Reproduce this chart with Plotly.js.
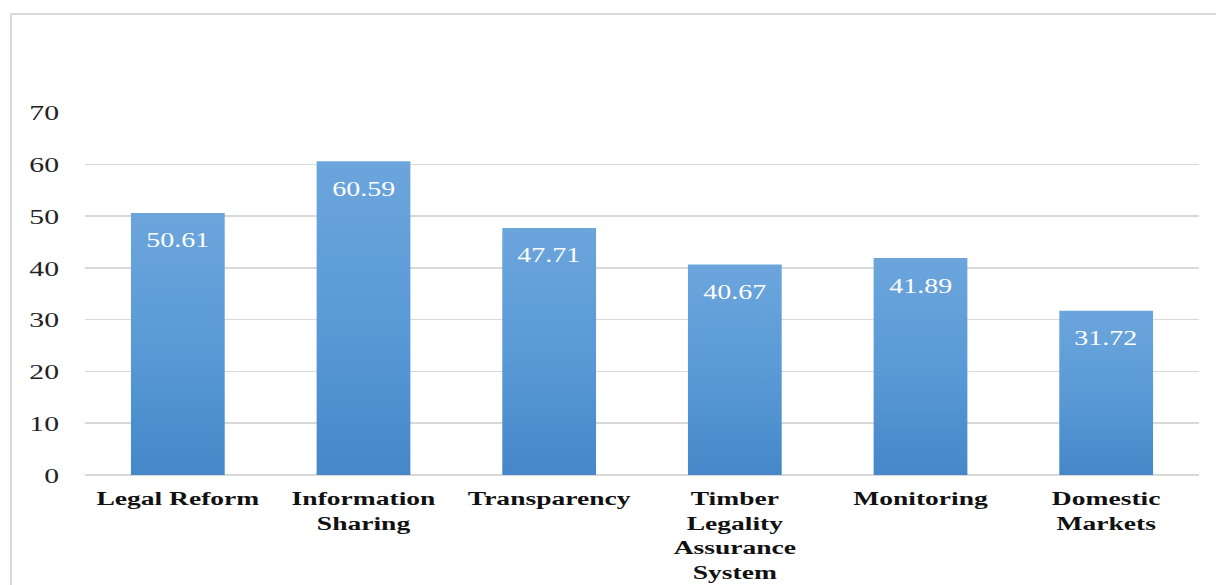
<!DOCTYPE html>
<html>
<head>
<meta charset="utf-8">
<script src="https://cdn.plot.ly/plotly-3.0.1.min.js"></script>
<style>
  html, body { margin: 0; padding: 0; background: #ffffff; }
  #frame { position: absolute; left: 10px; top: 13px; width: 1220px; height: 600px;
           border-top: 2px solid #d9d9d9; border-left: 2px solid #d9d9d9; }
  #chart { position: absolute; left: 0; top: 0; width: 1216px; height: 585px; }
</style>
</head>
<body>
<div id="frame"></div>
<div id="chart"></div>
<script>
const categories = ["Legal Reform", "Information<br>Sharing", "Transparency",
                    "Timber<br>Legality<br>Assurance<br>System", "Monitoring", "Domestic<br>Markets"];
const values = [50.61, 60.59, 47.71, 40.67, 41.89, 31.72];
const tickValues = [0, 10, 20, 30, 40, 50, 60, 70];

const serif = "Liberation Serif, Times New Roman, serif";

const trace = {
  type: "bar",
  x: categories,
  y: values,
  marker: { color: "#5a9bd6", line: { width: 0 } },
  hoverinfo: "skip"
};

const annotations = categories.map((c, i) => ({
  x: c, y: values[i], xref: "x", yref: "y",
  text: values[i].toFixed(2),
  showarrow: false, yanchor: "middle", yshift: -27,
  font: { family: serif, size: 22, color: "#ffffff" }
}));

const layout = {
  width: 1216, height: 585,
  margin: { l: 85, r: 17, t: 112, b: 110 },
  paper_bgcolor: "rgba(0,0,0,0)",
  plot_bgcolor: "rgba(0,0,0,0)",
  showlegend: false,
  bargap: 0.495,
  xaxis: {
    type: "category",
    showgrid: false, showline: false, zeroline: false, ticks: "",
    tickfont: { family: serif, size: 19, color: "#111111", weight: "bold" },
    ticklabelstandoff: 10
  },
  yaxis: {
    range: [0, 70.1],
    tickvals: tickValues,
    ticktext: tickValues.map(String),
    showgrid: true, gridcolor: "#d9d9d9", gridwidth: 1.5,
    zeroline: true, zerolinecolor: "#d9d9d9", zerolinewidth: 1.5,
    showline: false, ticks: "",
    tickfont: { family: serif, size: 22, color: "#222222" },
    ticklabelstandoff: 25
  },
  annotations: annotations
};

function stretchText(root, selector, sx) {
  root.querySelectorAll(selector).forEach(t => {
    const x = parseFloat(t.getAttribute("x")) || 0;
    const prev = t.getAttribute("transform") || "";
    t.setAttribute("transform", prev + " translate(" + x + ",0) scale(" + sx + ",1) translate(" + (-x) + ",0)");
  });
}

function addGradient(gd) {
  const svg = gd.querySelector("svg.main-svg");
  const ns = "http://www.w3.org/2000/svg";
  let defs = svg.querySelector("defs");
  if (!defs) { defs = document.createElementNS(ns, "defs"); svg.insertBefore(defs, svg.firstChild); }
  const lg = document.createElementNS(ns, "linearGradient");
  lg.setAttribute("id", "barGrad");
  lg.setAttribute("x1", "0"); lg.setAttribute("y1", "0");
  lg.setAttribute("x2", "0"); lg.setAttribute("y2", "1");
  [["0", "#6ca5dc"], ["0.5", "#5a9ad7"], ["1", "#4587c8"]].forEach(([o, c]) => {
    const s = document.createElementNS(ns, "stop");
    s.setAttribute("offset", o); s.setAttribute("stop-color", c);
    lg.appendChild(s);
  });
  defs.appendChild(lg);
  gd.querySelectorAll(".bars .point path").forEach(p => { p.style.fill = "url(#barGrad)"; });
}

Plotly.newPlot("chart", [trace], layout, { displayModeBar: false, staticPlot: true }).then(gd => {
  stretchText(gd, ".xtick text", 1.45);
  stretchText(gd, ".ytick text", 1.35);
  stretchText(gd, "text.annotation-text", 1.27);
  addGradient(gd);
});
</script>
</body>
</html>
